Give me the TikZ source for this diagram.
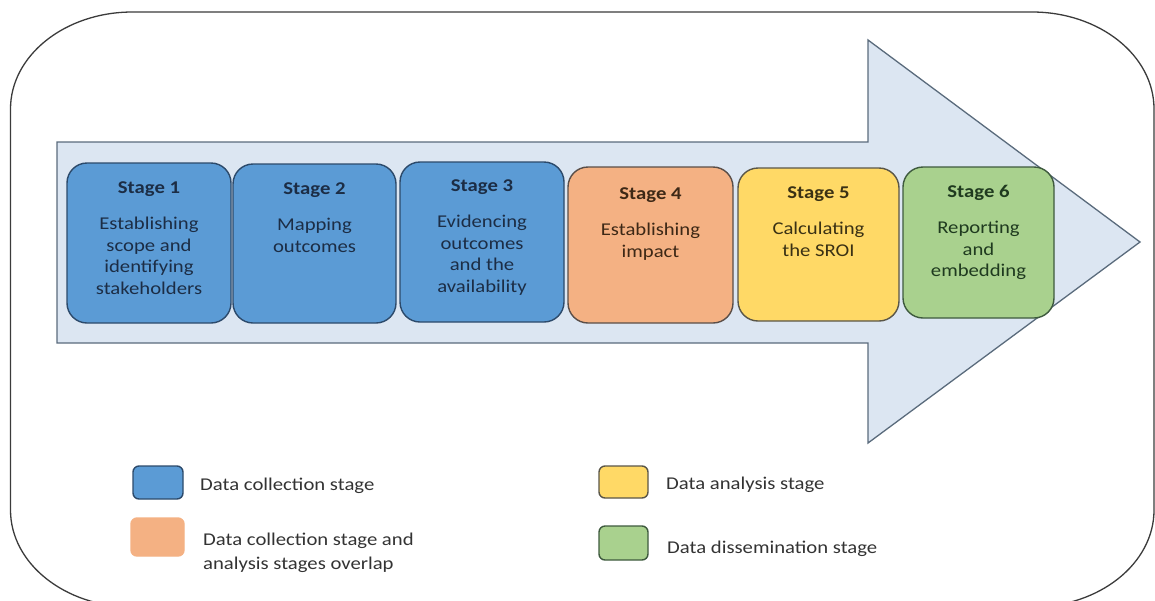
\documentclass[tikz,border=0pt]{standalone}
\usepackage{fontspec}
\setmainfont{Carlito}[FakeStretch=1.15]
\definecolor{frameC}{HTML}{3B3B3B}
\definecolor{bandF}{HTML}{DCE6F2}
\definecolor{bandD}{HTML}{5A6B7C}
\definecolor{blueF}{HTML}{5B9BD5}
\definecolor{blueD}{HTML}{2C4A6B}
\definecolor{blueT}{HTML}{1C2D45}
\definecolor{orangeF}{HTML}{F4B183}
\definecolor{orangeD}{HTML}{5A4E48}
\definecolor{orangeT}{HTML}{3D2816}
\definecolor{yellowF}{HTML}{FFD966}
\definecolor{yellowD}{HTML}{5A5648}
\definecolor{yellowT}{HTML}{3A3114}
\definecolor{greenF}{HTML}{A9D18E}
\definecolor{greenD}{HTML}{3E5A3E}
\definecolor{greenT}{HTML}{1F3A1F}
\definecolor{legT}{HTML}{333333}
\begin{document}
\begin{tikzpicture}[x=1pt,y=-1pt,
  stagebox/.style={draw, line width=1.4pt, rounded corners=20pt, inner sep=0pt},
  stagetext/.style={anchor=north, inner sep=0pt, align=center, font=\fontsize{18}{21.5}\selectfont},
  legbox/.style={draw, line width=1.4pt, rounded corners=6pt, inner sep=0pt},
  legtext/.style={inner sep=0pt, align=left, text=legT, font=\fontsize{18}{24}\selectfont}
]
\useasboundingbox (0,0) rectangle (1155,600);
% outer frame
\draw[frameC, line width=1.3pt]
  (10.5,109) .. controls (10.5,55.4) and (65.1,12) .. (132.5,12)
  -- (1032,12) .. controls (1099.4,12) and (1154,55.4) .. (1154,109)
  -- (1154,510) .. controls (1154,563.6) and (1099.4,607) .. (1032,607)
  -- (132.5,607) .. controls (65.1,607) and (10.5,563.6) .. (10.5,510) -- cycle;
% big arrow
\draw[bandD, fill=bandF, line width=1.3pt, line join=miter]
  (57,142) -- (868,142) -- (868,40) -- (1140,242) -- (868,443) -- (868,343) -- (57,343) -- cycle;
% stage boxes
\node[stagebox, draw=blueD, fill=blueF, minimum width=164pt, minimum height=160pt] (s1) at (149,243) {};
\node[stagebox, draw=blueD, fill=blueF, minimum width=163pt, minimum height=159pt] (s2) at (314.5,243.5) {};
\node[stagebox, draw=blueD, fill=blueF, minimum width=164pt, minimum height=160pt] (s3) at (482,242) {};
\node[stagebox, draw=orangeD, fill=orangeF, minimum width=165pt, minimum height=156pt] (s4) at (650.5,245) {};
\node[stagebox, draw=yellowD, fill=yellowF, minimum width=161pt, minimum height=153pt] (s5) at (818.5,244.5) {};
\node[stagebox, draw=greenD, fill=greenF, minimum width=151pt, minimum height=151pt] (s6) at (978.5,242.5) {};
% stage texts
\node[stagetext, text=blueT] (t1) at (149,180) {\rule{0pt}{13pt}\textbf{Stage 1}\\[15pt]Establishing\\scope and\\identifying\\stakeholders};
\node[stagetext, text=blueT] (t2) at (314.5,181) {\rule{0pt}{13pt}\textbf{Stage 2}\\[15pt]Mapping\\outcomes};
\node[stagetext, text=blueT] (t3) at (482,178) {\rule{0pt}{13pt}\textbf{Stage 3}\\[15pt]Evidencing\\outcomes\\and the\\availability};
\node[stagetext, text=orangeT] (t4) at (650.5,186) {\rule{0pt}{13pt}\textbf{Stage 4}\\[15pt]Establishing\\impact};
\node[stagetext, text=yellowT] (t5) at (818.5,185) {\rule{0pt}{13pt}\textbf{Stage 5}\\[15pt]Calculating\\the SROI};
\node[stagetext, text=greenT] (t6) at (978.5,184) {\rule{0pt}{13pt}\textbf{Stage 6}\\[15pt]Reporting\\and\\embedding};
% legend
\node[legbox, draw=blueD, fill=blueF, minimum width=50pt, minimum height=33pt] (l1) at (158,482.5) {};
\node[legbox, draw=orangeF, fill=orangeF, minimum width=53pt, minimum height=38pt] (l2) at (157.5,537) {};
\node[legbox, draw=yellowD, fill=yellowF, minimum width=49pt, minimum height=32pt] (l3) at (623.5,482) {};
\node[legbox, draw=greenD, fill=greenF, minimum width=49pt, minimum height=34pt] (l4) at (623.5,543) {};
\node[legtext, anchor=base west] (lt1) at (200,490) {Data collection stage};
\node[legtext, anchor=north west] (lt2) at (203,532) {\rule{0pt}{13pt}Data collection stage and\\analysis stages overlap};
\node[legtext, anchor=base west] (lt3) at (666,489) {Data analysis stage};
\node[legtext, anchor=base west] (lt4) at (667,553) {Data dissemination stage};
\end{tikzpicture}
\end{document}
